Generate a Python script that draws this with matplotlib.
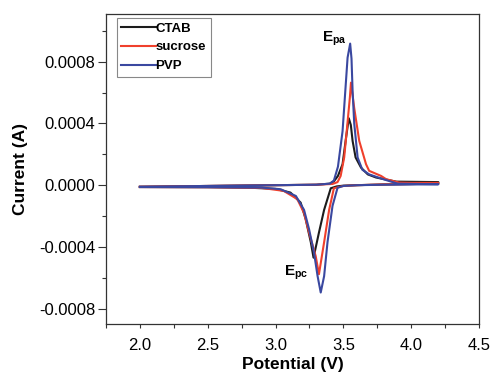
import matplotlib
matplotlib.use("Agg")
import matplotlib.pyplot as plt
from matplotlib.ticker import MultipleLocator, FormatStrFormatter

plt.rcParams['font.family'] = ['Liberation Sans', 'DejaVu Sans']
plt.rcParams['axes.unicode_minus'] = False
plt.rcParams['mathtext.fontset'] = 'custom'
plt.rcParams['mathtext.rm'] = 'Liberation Sans:bold'
plt.rcParams['mathtext.bf'] = 'Liberation Sans:bold'

# ---- data (potential in V, current in A) ----
ctab_fwd_v = [2.0, 2.5, 3.0, 3.3, 3.40, 3.43, 3.46, 3.494, 3.52, 3.54, 3.555, 3.568, 3.59, 3.63, 3.68, 3.74, 3.89, 4.2]
ctab_fwd_i = [-1e-5, -5e-6, 0, 3e-6, 1e-5, 2.5e-5, 6e-5, 1.36e-4, 3.1e-4, 4.34e-4, 3.9e-4, 2.87e-4, 1.8e-4, 1.14e-4, 7e-5, 5e-5, 2.3e-5, 2e-5]
ctab_rev_v = [4.2, 3.8, 3.6, 3.5, 3.45, 3.407, 3.358, 3.32, 3.28, 3.26, 3.222, 3.185, 3.11, 3.0, 2.8, 2.5, 2.0]
ctab_rev_i = [1e-5, 5e-6, 0, -3e-6, -8e-6, -2e-5, -1.6e-4, -3.07e-4, -4.7e-4, -3.7e-4, -2.2e-4, -1.13e-4, -4.8e-5, -2.4e-5, -1.6e-5, -1.3e-5, -1.2e-5]

suc_fwd_v = [2.0, 2.5, 3.0, 3.3, 3.42, 3.457, 3.48, 3.506, 3.53, 3.548, 3.556, 3.58, 3.617, 3.667, 3.69, 3.778, 3.815, 3.91, 4.0, 4.2]
suc_fwd_i = [-1e-5, -5e-6, 0, 3e-6, 8e-6, 2e-5, 6e-5, 1.8e-4, 4e-4, 5.7e-4, 6.65e-4, 5e-4, 2.87e-4, 1.36e-4, 9.3e-5, 6e-5, 3.9e-5, 1.7e-5, 1.5e-5, 1.5e-5]
suc_rev_v = [4.2, 3.8, 3.6, 3.5, 3.43, 3.395, 3.358, 3.32, 3.296, 3.247, 3.21, 3.16, 3.06, 2.9, 2.5, 2.0]
suc_rev_i = [1e-5, 5e-6, 0, -5e-6, -2e-5, -1.6e-4, -3.7e-4, -5.77e-4, -4.6e-4, -3.07e-4, -1.8e-4, -9e-5, -3.7e-5, -1.8e-5, -1.3e-5, -1.2e-5]

pvp_fwd_v = [2.0, 2.5, 3.0, 3.3, 3.40, 3.43, 3.46, 3.494, 3.531, 3.55, 3.56, 3.568, 3.58, 3.605, 3.64, 3.69, 3.79, 3.9, 4.2]
pvp_fwd_i = [-1e-5, -5e-6, 0, 3e-6, 1e-5, 3e-5, 1.2e-4, 3.5e-4, 8.27e-4, 9.18e-4, 8.2e-4, 6.1e-4, 4e-4, 1.8e-4, 1e-4, 7e-5, 4e-5, 1e-5, 6e-6]
pvp_rev_v = [4.2, 3.8, 3.6, 3.5, 3.457, 3.42, 3.383, 3.358, 3.333, 3.31, 3.284, 3.247, 3.21, 3.15, 3.037, 2.9, 2.5, 2.0]
pvp_rev_i = [6e-6, 3e-6, 0, -5e-6, -1.7e-5, -1.34e-4, -3.7e-4, -5.9e-4, -6.96e-4, -5.9e-4, -4.4e-4, -2.85e-4, -1.6e-4, -7e-5, -2.6e-5, -1.6e-5, -1.3e-5, -1.2e-5]

labels = ['CTAB', 'sucrose', 'PVP']
colors = ['#1c1c1c', '#f0402c', '#3a48a0']

x_ticks = [2.0, 2.5, 3.0, 3.5, 4.0, 4.5]
y_ticks = [-0.0008, -0.0004, 0.0, 0.0004, 0.0008]

fig = plt.figure(figsize=(4.9, 3.74), dpi=100)
ax = fig.add_axes([0.2163, 0.1337, 0.7613, 0.8289])

series = [
    (ctab_fwd_v + ctab_rev_v, ctab_fwd_i + ctab_rev_i),
    (suc_fwd_v + suc_rev_v, suc_fwd_i + suc_rev_i),
    (pvp_fwd_v + pvp_rev_v, pvp_fwd_i + pvp_rev_i),
]
for (v, i), lab, c in zip(series, labels, colors):
    ax.plot(v, i, color=c, lw=1.5, label=lab, solid_joinstyle='round')

ax.set_xlim(1.75, 4.5)
ax.set_ylim(-0.0009, 0.00111)
ax.set_xticks(x_ticks)
ax.set_yticks(y_ticks)
ax.xaxis.set_minor_locator(MultipleLocator(0.25))
ax.yaxis.set_minor_locator(MultipleLocator(0.0002))
ax.xaxis.set_major_formatter(FormatStrFormatter('%.1f'))
ax.yaxis.set_major_formatter(FormatStrFormatter('%.4f'))
ax.tick_params(which='both', direction='out', width=0.8, color='#333333', labelsize=12)
ax.tick_params(axis='x', which='major', length=3, pad=7)
ax.tick_params(axis='x', which='minor', length=3)
ax.tick_params(axis='y', which='major', length=6, pad=1.5)
ax.tick_params(axis='y', which='minor', length=3)
for s in ax.spines.values():
    s.set_linewidth(0.9)
    s.set_color('#333333')

ax.set_xlabel('Potential (V)', fontsize=12.5, fontweight='bold', labelpad=3)
ax.set_ylabel('Current (A)', fontsize=12.5, fontweight='bold', labelpad=8)

ax.text(3.346, 0.000929, r'$\mathbf{E_{pa}}$', fontsize=11, ha='left', va='baseline')
ax.text(3.062, -0.000588, r'$\mathbf{E_{pc}}$', fontsize=11, ha='left', va='baseline')

leg = ax.legend(loc='upper left', bbox_to_anchor=(0.0287, 0.988), fancybox=False,
                frameon=True, edgecolor='#888888', framealpha=1,
                prop={'weight': 'bold', 'size': 9.5}, handlelength=2.6,
                handletextpad=0.0, labelspacing=0.5, borderpad=0.35,
                borderaxespad=0)
leg.get_frame().set_linewidth(0.8)

fig.savefig('out.png', dpi=100)
